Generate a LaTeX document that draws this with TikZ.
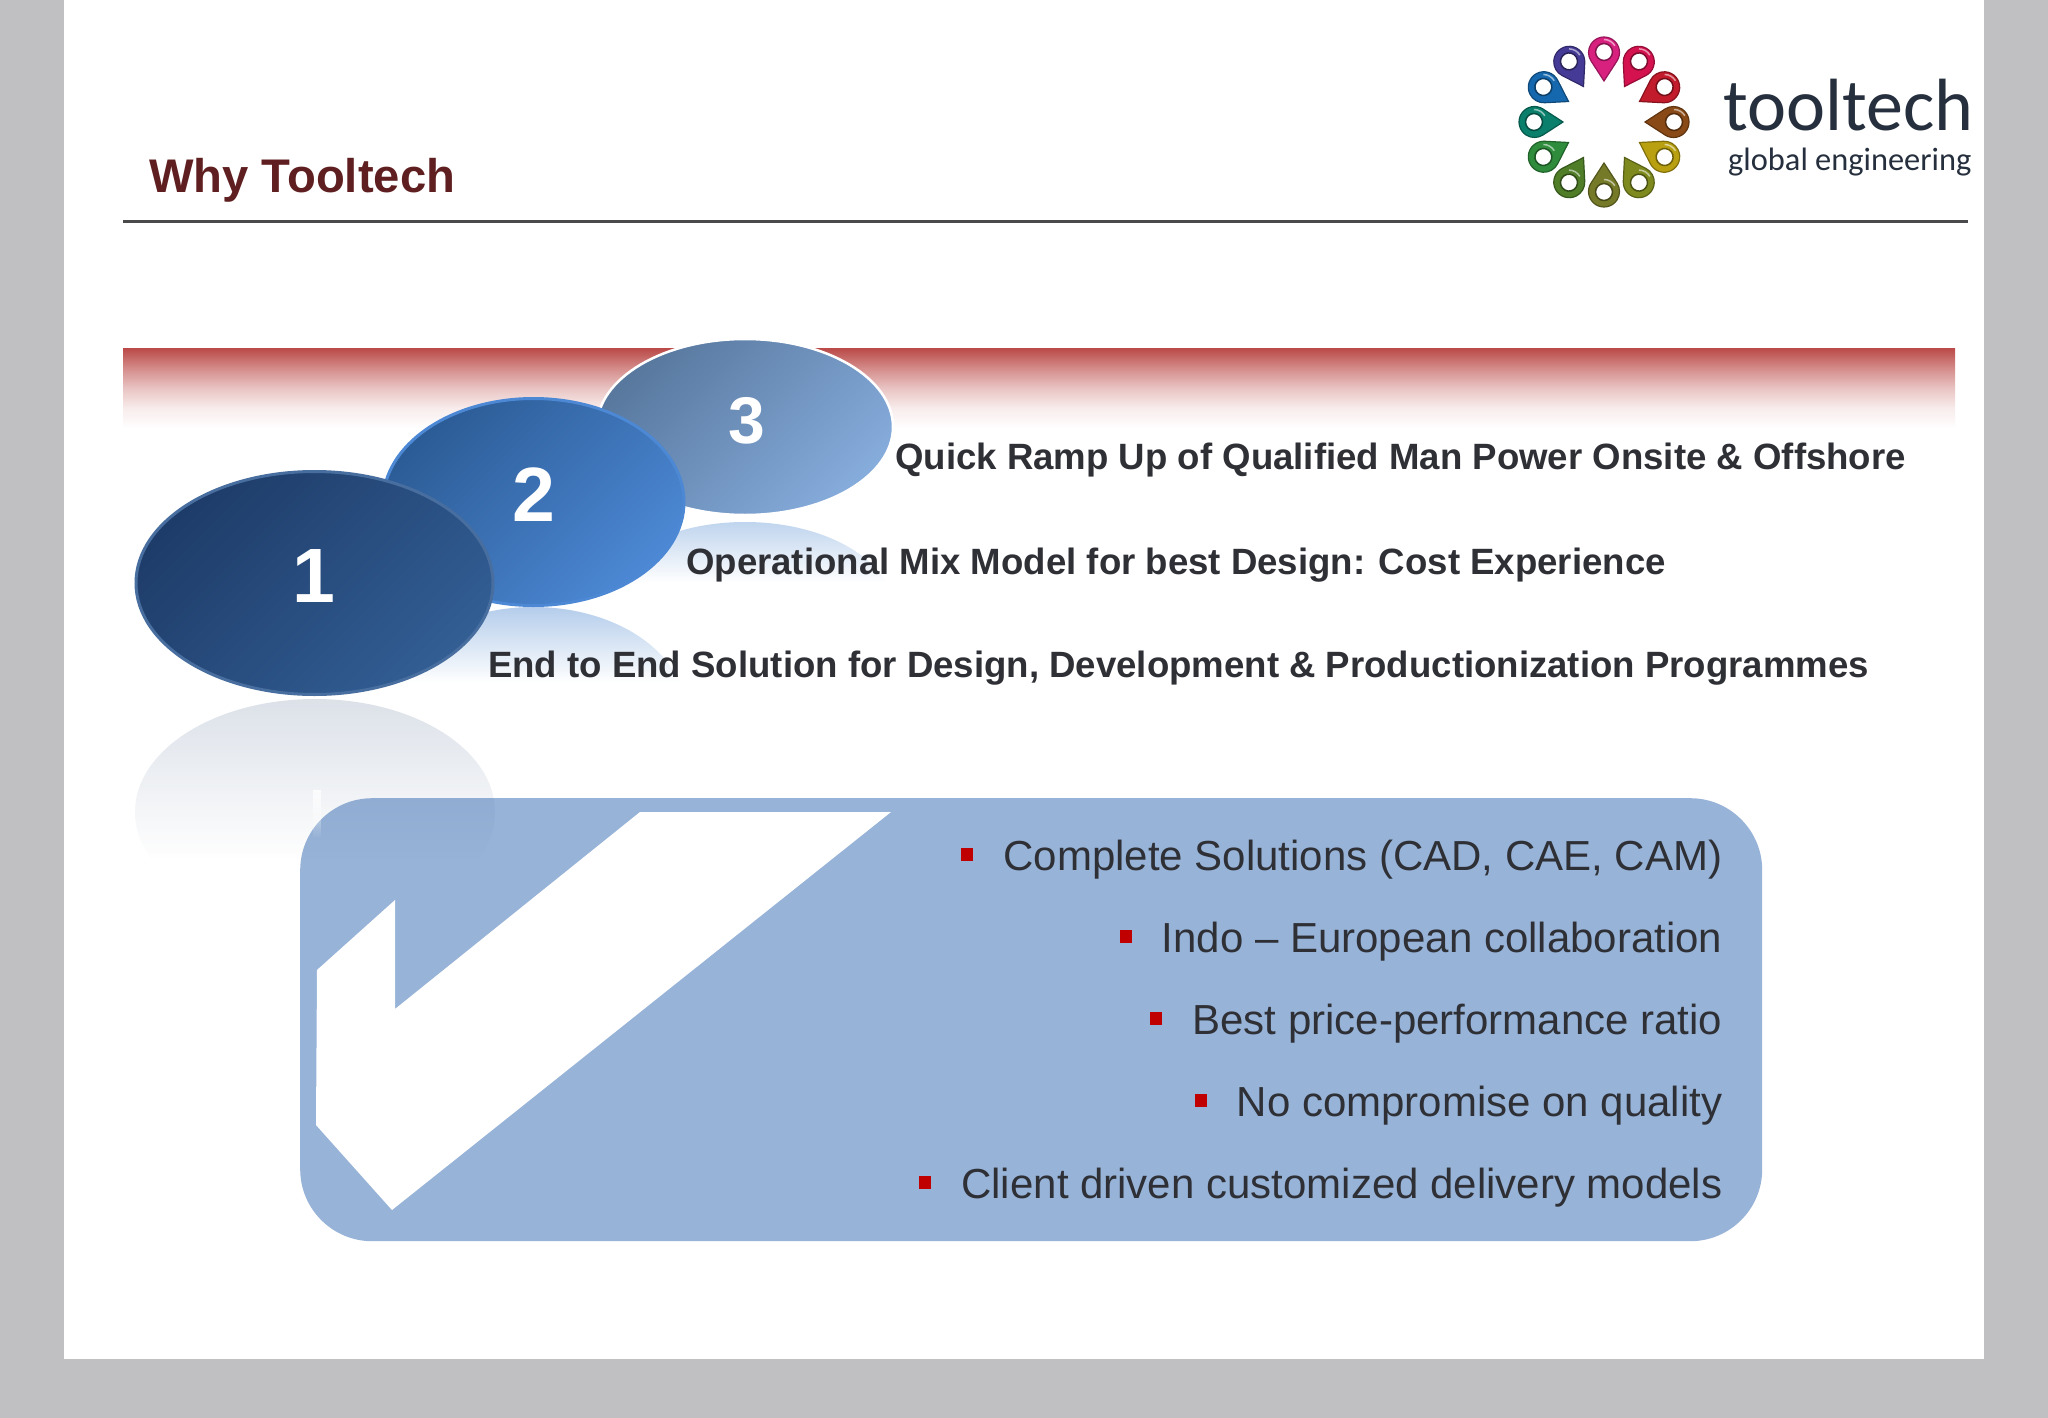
\documentclass[tikz,border=0pt]{standalone}
\usepackage{fontspec}
\setmainfont{Liberation Sans}
\newfontfamily\logofont{Carlito}
\usetikzlibrary{shapes.geometric, positioning, fadings}
\definecolor{pagegrey}{HTML}{C0BFC1}
\definecolor{titlered}{HTML}{5F1F20}
\definecolor{rulegrey}{HTML}{4A4A4C}
\definecolor{bandred}{HTML}{BA4A48}
\definecolor{bandmid}{HTML}{D48C8A}
\definecolor{bandpale}{HTML}{E8C4C3}
\definecolor{bandfaint}{HTML}{F8ECEC}
\definecolor{boxblue}{HTML}{97B3D8}
\definecolor{textdark}{HTML}{2E3036}
\definecolor{logodark}{HTML}{262F3D}
\definecolor{bulletred}{HTML}{C00000}
\definecolor{reflone}{HTML}{314F7E}
\definecolor{refltwo}{HTML}{4A86D0}
\definecolor{ovalthreea}{HTML}{58789E}
\definecolor{ovalthreeb}{HTML}{86ACDC}
\definecolor{ovaltwoa}{HTML}{2C5C96}
\definecolor{ovaltwob}{HTML}{4C88D4}
\definecolor{ovalonea}{HTML}{1E3C69}
\definecolor{ovaloneb}{HTML}{325E94}
\pgfdeclareverticalshading{bandfade}{100bp}{color(0bp)=(white); color(25bp)=(white); color(37.5bp)=(bandfaint); color(50bp)=(bandpale); color(62.5bp)=(bandmid); color(75bp)=(bandred); color(100bp)=(bandred)}
\tikzfading[name=reflfade, top color=transparent!0, bottom color=transparent!100]
\newcommand{\redbullet}{{\color{bulletred}\rule[9pt]{12pt}{13pt}}\hspace{30pt}}
\begin{document}
\begin{tikzpicture}[x=1pt,y=-1pt,
slidenode/.style={rectangle, fill=white, inner sep=0pt, anchor=north west, minimum width=1920pt, minimum height=1359pt},
bandnode/.style={rectangle, inner sep=0pt, anchor=north west, minimum width=1832pt, minimum height=80pt, shade, shading=bandfade},
boxnode/.style={rectangle, fill=boxblue, rounded corners=72pt, inner sep=0pt, anchor=north west, minimum width=1462pt, minimum height=443pt},
roundnode/.style 2 args={ellipse, inner sep=0pt, top color=#1, bottom color=#2, shading angle=45},
numnode/.style={text=white, font=\fontsize{77pt}{77pt}\selectfont\bfseries, inner sep=0pt},
boldtext/.style={anchor=base west, inner sep=0pt, text=textdark, font=\fontsize{36.6pt}{40pt}\selectfont\bfseries},
listtext/.style={anchor=base east, inner sep=0pt, text=textdark, font=\fontsize{42pt}{46pt}\selectfont},
pinshape/.style={line width=1.2pt},
]
\useasboundingbox (0,0) rectangle (2048,1418);
\fill[pagegrey] (0,0) rectangle (2048,1418);

%Nodes
\node[slidenode] (slide) at (64,0) {};
\node[bandnode] (band) at (123,348) {};
\node[boxnode] (box) at (300,798) {};

%Check mark
\fill[white] (640,812) -- (891,812) -- (392,1210) -- (316,1125) -- (317,970) -- (395,900) -- (395,1009) -- cycle;

%Reflections
\begin{scope}
\clip (745,611) ellipse [x radius=149, y radius=89];
\fill[refltwo, fill opacity=.36, path fading=reflfade] (590,520) rectangle (900,582);
\end{scope}
\begin{scope}
\clip (533.5,712) ellipse [x radius=152, y radius=105];
\fill[refltwo, fill opacity=.42, path fading=reflfade] (380,605) rectangle (690,682);
\end{scope}
\begin{scope}
\clip (315,812) ellipse [x radius=180, y radius=113];
\fill[reflone, fill opacity=.17, path fading=reflfade] (130,698) rectangle (500,860);
\fill[white, fill opacity=.8, path fading=reflfade] (313,790) rectangle (321,838);
\end{scope}

%Ovals
\node[roundnode={ovalthreea}{ovalthreeb}, draw=white, line width=2.5pt, minimum width=296pt, minimum height=176pt] (ovalthree) at (745,427) {};
\node[roundnode={ovaltwoa}{ovaltwob}, draw=ovaltwob, line width=3pt, minimum width=301pt, minimum height=207pt] (ovaltwo) at (533.5,502) {};
\node[roundnode={ovalonea}{ovaloneb}, draw=ovaloneb!90!white, line width=3pt, minimum width=357pt, minimum height=223pt] (ovalone) at (314.5,583) {};
\node[numnode, font=\fontsize{66pt}{66pt}\selectfont\bfseries] (numthree) at ([xshift=1.5pt,yshift=6pt]ovalthree.center) {3};
\node[numnode] (numtwo) at ([yshift=7pt]ovaltwo.center) {2};
\node[numnode] (numone) at ([xshift=-1pt,yshift=7pt]ovalone.center) {1};

%Title and rule
\node[anchor=base west, inner sep=0pt, text=titlered, font=\fontsize{47.2pt}{50pt}\selectfont\bfseries] (title) at (149,192) {Why Tooltech};
\coordinate (ruleleft) at (123,221.5);
\coordinate (ruleright) at (1968,221.5);
\draw[rulegrey, line width=2.5pt] (ruleleft) -- (ruleright);

%Text
\node[boldtext] (stepthree) at (895,469) {Quick Ramp Up of Qualified Man Power Onsite \& Offshore};
\node[boldtext] (steptwo) at (686,574) {Operational Mix Model for best Design: Cost Experience};
\node[boldtext] (stepone) at (488,677) {End to End Solution for Design, Development \& Productionization Programmes};
\node[listtext] (itemone) at (1722.5,870) {\redbullet Complete Solutions (CAD, CAE, CAM)};
\node[listtext] (itemtwo) at (1722.5,952) {\redbullet Indo -- European collaboration};
\node[listtext] (itemthree) at (1722.5,1034) {\redbullet Best price-performance ratio};
\node[listtext] (itemfour) at (1722.5,1116) {\redbullet No compromise on quality};
\node[listtext] (itemfive) at (1722.5,1198) {\redbullet Client driven customized delivery models};

%Logo
\foreach \ang/\pincol in {90/D8207F, 60/D3124F, 30/C21B2B, 0/8A4A17, -30/B8A010, -60/7E8A1E, -90/757A28, -120/4F7D28, -150/2F8C3C, 180/0A7F6C, 150/1568AE, 120/453A96}{
\definecolor{pincolor}{HTML}{\pincol}
\begin{scope}[shift={(1604,122)}, rotate=\ang]
\filldraw[pinshape, fill=pincolor, draw=pincolor!70!black] (41,0) -- (61.06,13) arc[start angle=-123, end angle=123, radius=15.5pt] -- cycle;
\filldraw[line width=1.5pt, fill=white, draw=pincolor!60!black] (70,0) circle[radius=8.5pt];
\draw[white, opacity=.55, line width=1.5pt] ([shift={(30-\ang:12.5pt)}]70,0) arc[start angle=30-\ang, delta angle=60, radius=12.5pt];
\end{scope}
}
\node[anchor=base west, inner sep=0pt, text=logodark, font=\fontsize{74pt}{78pt}\logofont] (logoname) at (1723,131) {tooltech};
\node[anchor=base west, inner sep=0pt, text=logodark, font=\fontsize{32.4pt}{34pt}\logofont] (logosub) at (1728,170) {global engineering};
\end{tikzpicture}
\end{document}
